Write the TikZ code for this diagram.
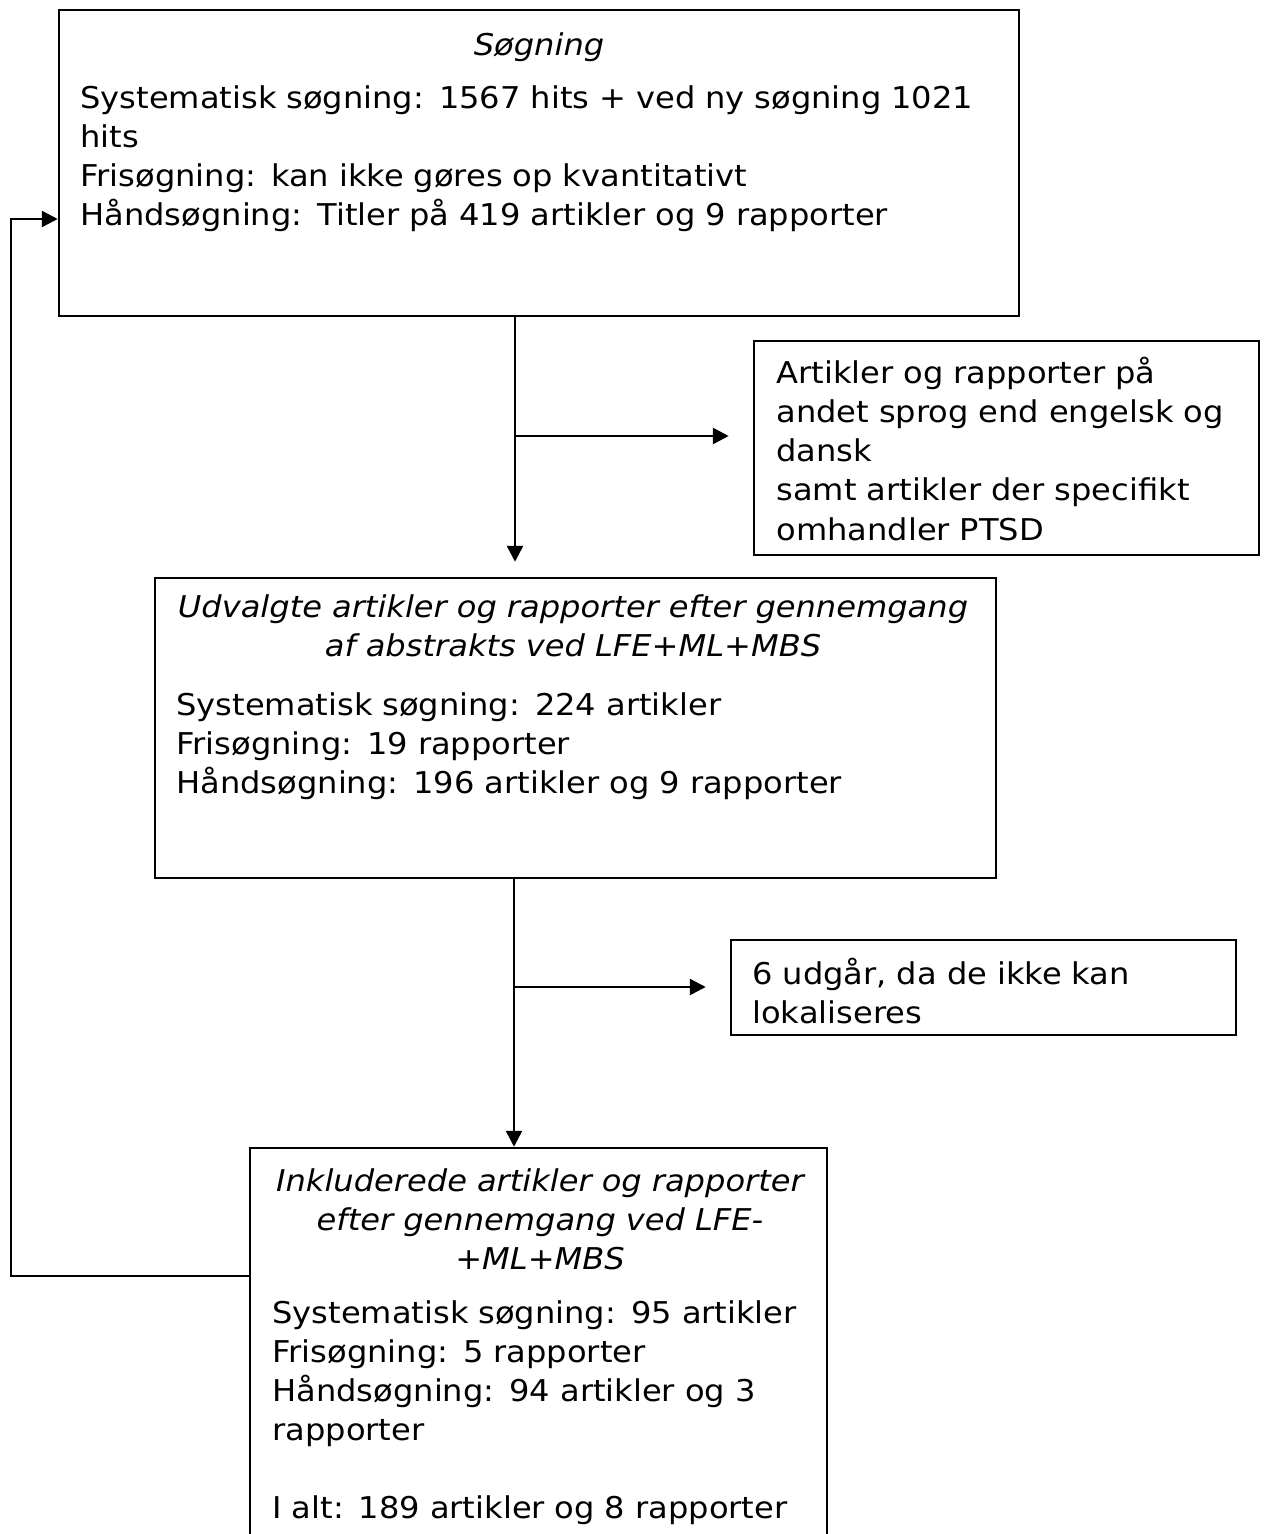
\documentclass[tikz,border=0pt]{standalone}
\usepackage{fontspec}
\setmainfont{DejaVu Sans}[FakeStretch=1.07]
\usetikzlibrary{arrows.meta}
\begin{document}
\begin{tikzpicture}[x=0.5pt,y=-0.5pt,
  box/.style={draw,line width=1.25pt,rectangle,inner sep=0pt},
  txt/.style={inner sep=0pt,font=\fontsize{15pt}{19.5pt}\selectfont,align=left},
  hdr/.style={inner sep=0pt,font=\fontsize{15pt}{19.5pt}\selectfont\itshape,align=center},
  conn/.style={line width=1.25pt},
  arr/.style={line width=1.25pt,-{Triangle[length=8pt,width=8pt]}}]
\useasboundingbox[fill=white] (0,0) rectangle (1265,1534);
% boxes
\node[box,minimum width=480pt,minimum height=153pt] (b1) at (539,163) {};
\node[box,minimum width=252.5pt,minimum height=107pt] (b2) at (1006.5,448) {};
\node[box,minimum width=420.5pt,minimum height=150pt] (b3) at (575.5,728) {};
\node[box,minimum width=252.5pt,minimum height=47.5pt] (b5) at (983.5,987.5) {};
\node[box,minimum width=288.5pt,minimum height=226pt] (b4) at (538.5,1374) {};
% texts
\node[hdr,anchor=base,text width=460pt] (t1h) at (539,56) {Søgning};
\node[txt,anchor=base west,text width=470pt] (t1) at (80,109) {Systematisk søgning: 1567 hits + ved ny søgning 1021\\hits\\Frisøgning: kan ikke gøres op kvantitativt\\Håndsøgning: Titler på 419 artikler og 9 rapporter};
\node[txt,anchor=base west,text width=245pt] (t2) at (776,384) {Artikler og rapporter på\\andet sprog end engelsk og\\dansk\\samt artikler der specifikt\\omhandler PTSD};
\node[hdr,anchor=base,text width=415pt] (t3h) at (573,617) {Udvalgte artikler og rapporter efter gennemgang\\af abstrakts ved LFE+ML+MBS};
\node[txt,anchor=base west,text width=400pt] (t3) at (176,715) {Systematisk søgning: 224 artikler\\Frisøgning: 19 rapporter\\Håndsøgning: 196 artikler og 9 rapporter};
\node[txt,anchor=base west,text width=245pt] (t5) at (752,984) {6 udgår, da de ikke kan\\lokaliseres};
\node[hdr,anchor=base,text width=285pt] (t4h) at (540,1191) {Inkluderede artikler og rapporter\\efter gennemgang ved LFE-\\+ML+MBS};
\node[txt,anchor=base west,text width=285pt] (t4) at (272,1323) {Systematisk søgning: 95 artikler\\Frisøgning: 5 rapporter\\Håndsøgning: 94 artikler og 3\\rapporter\\\mbox{}\\I alt: 189 artikler og 8 rapporter};
% connectors
\coordinate (trunk) at (515,0);
\coordinate (trunkb) at (514,0);
\coordinate (j1) at (515,436);
\coordinate (j2) at (514,987);
\draw[arr,shorten >=7.5pt] (b1.south -| trunk) -- (b3.north -| trunk);
\draw[arr,shorten >=12pt] (j1) -- (j1 -| b2.west);
\draw[arr] (b3.south -| trunkb) -- (b4.north -| trunkb);
\draw[arr,shorten >=12pt] (j2) -- (j2 -| b5.west);
\coordinate (fb) at (11,1276);
\coordinate (fbt) at (11,219);
\draw[arr] (b4.west |- fb) -- (fb) -- (fbt) -- (fbt -| b1.west);
\end{tikzpicture}
\end{document}
